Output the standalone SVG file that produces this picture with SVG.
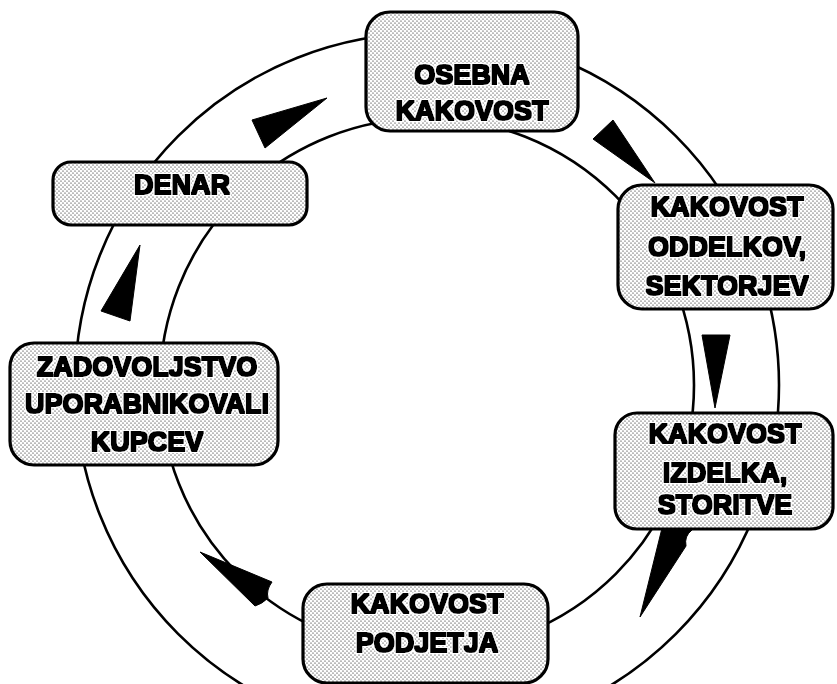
<svg xmlns="http://www.w3.org/2000/svg" width="837" height="684" viewBox="0 0 837 684">
  <defs>
    <!-- halftone screen used as box fill -->
    <pattern id="screen" width="4" height="4" patternUnits="userSpaceOnUse">
      <rect width="4" height="4" fill="#ffffff"/>
      <circle cx="1" cy="1" r="0.6" fill="#000"/>
      <circle cx="3" cy="3" r="0.6" fill="#000"/>
    </pattern>
    <!-- heavy lettering with a thin white halo -->
    <filter id="ink" x="-5%" y="-20%" width="110%" height="140%">
      <feMorphology in="SourceAlpha" operator="dilate" radius="0.6" result="bold"/>
      <feMorphology in="SourceAlpha" operator="dilate" radius="2.2" result="halo"/>
      <feFlood flood-color="#ffffff"/>
      <feComposite in2="halo" operator="in" result="white"/>
      <feMerge>
        <feMergeNode in="white"/>
        <feMergeNode in="bold"/>
      </feMerge>
    </filter>
  </defs>
  <style>
    .ring { fill: none; stroke: #000; stroke-width: 2.6; }
    .box { fill: url(#screen); stroke: #000; stroke-width: 3.2; }
    .lbl { font-family: "Liberation Sans", Arial, sans-serif; font-weight: bold; font-size: 27px;
           text-anchor: middle; fill: #000; filter: url(#ink); }
    .arrow { fill: #000; stroke: #000; stroke-width: 1; stroke-linejoin: round; }
  </style>
  <rect width="837" height="684" fill="#fff"/>

  <!-- the cycle: a ring between two concentric circles, with direction markers -->
  <g id="connectors">
    <circle class="ring" cx="427" cy="385" r="352"/>
    <circle class="ring" cx="427" cy="385" r="267"/>
    <polygon class="arrow" points="252,120 327,98 265,148"/>
    <polygon class="arrow" points="593,139 613,120 655,183"/>
    <polygon class="arrow" points="702,335 730,335 715,408"/>
    <path class="arrow" d="M640,617 L666,512 Q682,514 692,530 Q684,536 686,546 Z"/>
    <path class="arrow" d="M200,552 L272,582 Q266,590 268,598 Q262,604 255,606 Z"/>
    <polygon class="arrow" points="140,245 101,311 130,321"/>
  </g>

  <g id="osebna-kakovost">
    <rect class="box" x="366" y="12" width="212" height="119" rx="24"/>
    <text class="lbl" x="472" y="84">OSEBNA</text>
    <text class="lbl" x="472" y="120">KAKOVOST</text>
  </g>

  <g id="kakovost-oddelkov">
    <rect class="box" x="618" y="185" width="215" height="124" rx="24"/>
    <text class="lbl" x="727" y="216">KAKOVOST</text>
    <text class="lbl" x="727" y="256">ODDELKOV,</text>
    <text class="lbl" x="727" y="295">SEKTORJEV</text>
  </g>

  <g id="kakovost-izdelka">
    <rect class="box" x="615" y="413" width="218" height="116" rx="22"/>
    <text class="lbl" x="725" y="443">KAKOVOST</text>
    <text class="lbl" x="725" y="482">IZDELKA,</text>
    <text class="lbl" x="725" y="514">STORITVE</text>
  </g>

  <g id="kakovost-podjetja">
    <rect class="box" x="303" y="584" width="245" height="99" rx="24"/>
    <text class="lbl" x="427" y="613">KAKOVOST</text>
    <text class="lbl" x="427" y="652">PODJETJA</text>
  </g>

  <g id="zadovoljstvo">
    <rect class="box" x="10" y="343" width="268" height="122" rx="24"/>
    <text class="lbl" x="147" y="376">ZADOVOLJSTVO</text>
    <text class="lbl" x="147" y="413">UPORABNIKOVALI</text>
    <text class="lbl" x="147" y="451">KUPCEV</text>
  </g>

  <g id="denar">
    <rect class="box" x="53" y="162" width="254" height="63" rx="18"/>
    <text class="lbl" x="182" y="194">DENAR</text>
  </g>
</svg>
